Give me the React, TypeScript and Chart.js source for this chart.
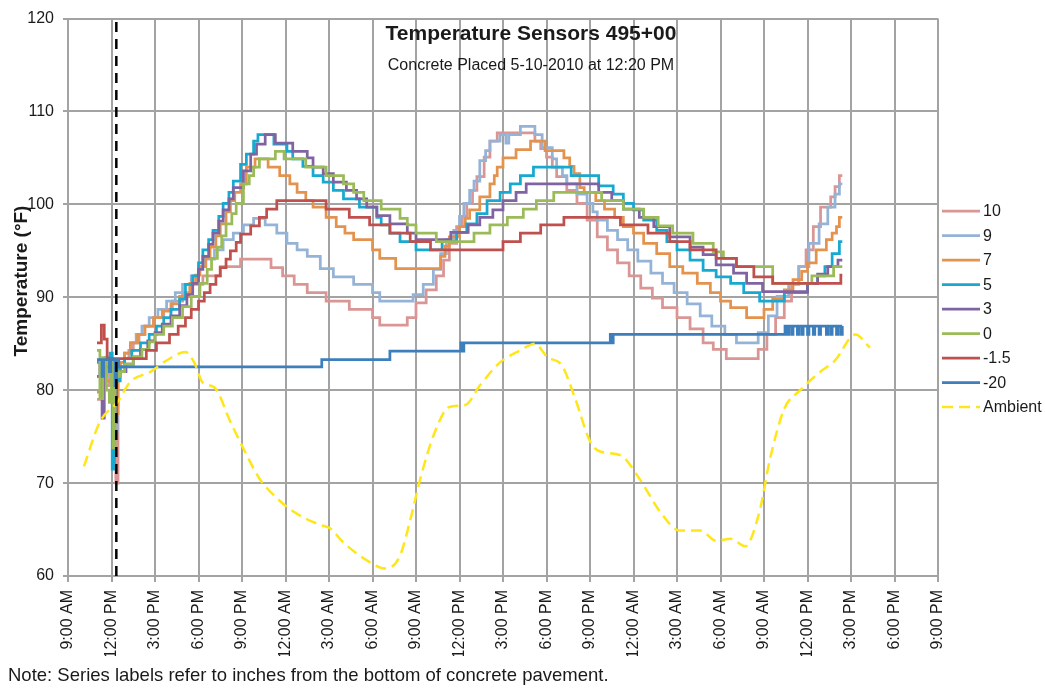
import React, { useEffect, useRef } from 'react';
import { Chart, registerables } from 'chart.js';

Chart.register(...registerables);

const FONT = '"Liberation Sans", Arial, sans-serif';

const chartTitle = 'Temperature Sensors 495+00';
const chartSubtitle = 'Concrete Placed 5-10-2010 at 12:20 PM';
const yAxisTitle = 'Temperature (°F)';
const noteText = 'Note: Series labels refer to inches from the bottom of concrete pavement.';

// hours after 9:00 AM, 5-10-2010
const xTickLabels = [
  '9:00 AM', '12:00 PM', '3:00 PM', '6:00 PM', '9:00 PM', '12:00 AM', '3:00 AM', '6:00 AM',
  '9:00 AM', '12:00 PM', '3:00 PM', '6:00 PM', '9:00 PM', '12:00 AM', '3:00 AM', '6:00 AM',
  '9:00 AM', '12:00 PM', '3:00 PM', '6:00 PM', '9:00 PM',
];
const yTicks = [60, 70, 80, 90, 100, 110, 120];
const placedHour = 3.333; // 12:20 PM

const seriesNames = ['10', '9', '7', '5', '3', '0', '-1.5', '-20', 'Ambient'];
const seriesColors = ['#D99694', '#95B3D7', '#E4934F', '#17A9CF', '#8064A2', '#9BBB59', '#C0504D', '#3D7FBC', '#FFE619'];

const s10: number[][] = [
  [2.0, 79.0], [2.25, 82.0], [2.55, 80.5], [2.85, 82.5], [3.15, 78.0], [3.3, 70.0], [3.45, 81.5], [3.6, 82.5],
  [3.9, 83.4], [4.2, 84.3], [4.5, 85.1], [4.9, 86.0], [5.3, 86.9], [5.9, 87.8], [6.6, 88.7], [7.2, 89.6],
  [7.9, 90.5], [8.6, 91.4], [9.3, 92.3], [10.5, 93.3], [11.9, 94.1], [14.0, 93.2], [14.8, 92.3], [15.6, 91.4],
  [16.5, 90.5], [17.8, 89.6], [19.4, 88.7], [21.0, 87.8], [21.5, 87.0], [23.4, 87.8], [24.0, 89.4], [24.7, 90.8],
  [25.4, 92.3], [25.9, 94.0], [26.3, 95.8], [26.8, 97.6], [27.2, 98.7], [27.5, 100.1], [27.9, 101.5], [28.2, 103.0],
  [28.7, 105.1], [29.1, 106.8], [29.6, 107.7], [32.2, 106.8], [32.6, 106.0], [33.0, 105.1], [33.4, 104.0],
  [33.7, 103.0], [34.4, 101.5], [35.1, 100.1], [35.8, 98.3], [36.5, 96.5], [37.2, 95.1], [37.9, 93.7], [38.7, 92.3],
  [39.5, 91.0], [40.3, 89.9], [41.0, 88.9], [42.0, 87.8], [42.9, 86.6], [43.8, 85.1], [44.5, 84.4], [45.4, 83.4],
  [47.6, 84.4], [48.2, 86.0], [48.8, 87.8], [49.4, 89.6], [49.9, 91.4], [50.4, 93.3], [50.9, 95.1], [51.4, 97.6],
  [51.9, 99.7], [52.6, 100.8], [52.9, 101.9], [53.2, 103.1], [53.4, 103.1],
];

const s9: number[][] = [
  [2.0, 81.5], [2.3, 83.0], [2.65, 81.5], [3.0, 83.3], [3.25, 75.5], [3.4, 82.5], [3.6, 83.0], [3.9, 84.0],
  [4.3, 85.1], [4.7, 86.0], [5.1, 86.9], [5.6, 87.8], [6.2, 88.7], [6.8, 89.6], [7.4, 90.5], [7.9, 91.4],
  [8.5, 92.3], [9.0, 93.3], [9.5, 94.1], [10.1, 95.1], [10.7, 96.2], [11.4, 96.9], [12.1, 97.8], [12.8, 98.5],
  [13.6, 97.8], [14.4, 96.9], [15.1, 95.8], [15.8, 95.1], [16.5, 94.4], [17.4, 93.1], [18.3, 92.2], [19.7, 91.4],
  [21.0, 90.5], [21.5, 89.6], [23.8, 90.3], [24.5, 91.4], [25.2, 93.0], [25.7, 94.7], [26.1, 96.2], [26.6, 97.2],
  [27.0, 98.7], [27.3, 100.1], [27.7, 101.5], [28.0, 102.5], [28.4, 104.7], [28.8, 105.8], [29.1, 106.8],
  [29.8, 107.5], [30.2, 106.6], [30.4, 107.5], [31.2, 108.4], [32.2, 107.5], [32.7, 106.1], [33.4, 104.9],
  [33.7, 104.0], [34.1, 103.1], [34.4, 102.2], [35.1, 101.1], [35.8, 100.1], [36.2, 99.2], [36.5, 98.3],
  [37.2, 97.2], [37.9, 96.2], [38.6, 95.1], [39.3, 93.9], [40.2, 92.6], [41.0, 91.5], [41.8, 90.5], [42.7, 89.3],
  [43.6, 88.0], [44.4, 86.9], [45.3, 86.0], [46.1, 85.1], [47.6, 86.2], [48.3, 88.0], [48.9, 90.1], [49.7, 91.5],
  [50.4, 93.3], [51.1, 95.8], [51.8, 97.9], [52.4, 99.7], [52.9, 101.1], [53.2, 102.2], [53.4, 102.2],
];

const s7: number[][] = [
  [2.0, 79.8], [2.3, 82.5], [2.6, 81.0], [3.0, 83.0], [3.25, 77.5], [3.45, 82.0], [3.6, 83.0], [3.9, 84.0],
  [4.3, 85.1], [4.8, 86.0], [5.3, 86.9], [5.9, 87.8], [6.5, 88.5], [7.1, 89.3], [7.7, 90.1], [8.4, 91.5],
  [8.8, 92.4], [9.1, 93.3], [9.5, 94.3], [9.8, 95.4], [10.2, 96.6], [10.5, 97.9], [10.9, 99.2], [11.2, 100.4],
  [11.5, 101.3], [11.9, 102.2], [12.3, 104.0], [12.9, 104.9], [13.8, 104.0], [14.6, 103.1], [15.3, 102.2],
  [15.8, 101.3], [16.4, 100.4], [16.9, 99.7], [17.8, 98.6], [18.5, 97.6], [19.1, 96.9], [19.7, 96.2], [21.0, 95.1],
  [21.5, 94.2], [22.6, 93.1], [25.7, 94.4], [26.0, 95.5], [26.3, 96.5], [27.0, 97.6], [27.4, 98.5], [27.7, 99.4],
  [28.4, 100.8], [29.1, 102.2], [29.4, 103.1], [29.6, 104.0], [30.0, 105.0], [30.9, 105.9], [31.9, 106.8],
  [32.9, 105.8], [34.2, 105.0], [34.6, 104.1], [34.9, 103.3], [35.3, 101.8], [35.6, 101.3], [36.4, 100.4],
  [37.0, 99.5], [37.7, 98.6], [38.3, 97.6], [39.0, 96.9], [39.7, 95.8], [40.6, 94.7], [41.5, 93.3], [42.4, 92.6],
  [43.4, 91.5], [44.3, 90.5], [45.0, 89.6], [45.7, 88.9], [46.8, 87.8], [48.0, 88.7], [48.6, 89.8], [49.4, 90.8],
  [50.0, 91.9], [50.6, 92.8], [51.0, 93.7], [51.6, 95.1], [52.3, 96.2], [52.7, 96.9], [53.0, 97.6], [53.2, 98.6],
  [53.4, 98.6],
];

const s5: number[][] = [
  [2.0, 83.0], [2.3, 81.5], [2.6, 83.5], [2.9, 84.0], [3.05, 71.5], [3.2, 82.5], [3.4, 81.0], [3.6, 82.5],
  [3.9, 83.4], [4.4, 84.3], [5.0, 85.1], [5.6, 86.0], [6.1, 86.9], [6.6, 87.8], [7.1, 88.7], [7.7, 89.8],
  [8.1, 91.4], [8.6, 92.3], [9.0, 93.7], [9.3, 95.1], [9.7, 96.2], [10.0, 97.2], [10.4, 98.7], [10.7, 100.1],
  [11.1, 101.3], [11.4, 102.5], [11.9, 104.3], [12.3, 105.4], [12.8, 106.8], [13.1, 107.5], [14.2, 106.5],
  [15.1, 105.7], [15.5, 104.9], [16.2, 104.1], [16.9, 103.1], [17.6, 102.4], [18.3, 101.5], [19.0, 100.6],
  [20.1, 99.7], [21.3, 98.6], [21.6, 97.8], [22.2, 96.9], [22.9, 96.0], [24.0, 95.1], [25.8, 96.0], [26.8, 97.0],
  [27.5, 97.9], [28.2, 99.0], [28.9, 100.4], [29.8, 101.3], [30.5, 102.2], [31.2, 103.1], [32.1, 104.0],
  [34.7, 103.1], [36.6, 102.0], [37.6, 101.1], [38.3, 100.1], [39.0, 99.4], [39.7, 98.3], [40.6, 97.2],
  [41.3, 96.0], [42.0, 95.1], [42.9, 94.0], [43.8, 92.9], [44.7, 92.2], [45.7, 91.5], [46.6, 90.5], [47.7, 89.6],
  [49.4, 90.5], [51.0, 91.5], [51.7, 92.3], [52.2, 93.3], [52.7, 94.7], [53.2, 96.0], [53.4, 96.0],
];

const s3: number[][] = [
  [2.0, 81.5], [2.2, 83.0], [2.35, 77.0], [2.5, 82.5], [3.0, 83.0], [3.2, 76.5], [3.35, 82.0], [3.6, 82.0],
  [4.0, 82.8], [4.5, 83.6], [5.0, 84.4], [5.5, 85.3], [6.0, 86.2], [6.5, 87.1], [7.1, 88.0], [7.7, 89.1],
  [8.2, 90.3], [8.6, 91.5], [9.0, 93.0], [9.3, 94.4], [9.7, 95.7], [10.0, 96.9], [10.4, 98.2], [10.7, 99.4],
  [11.1, 100.6], [11.4, 101.8], [12.1, 103.6], [12.6, 105.4], [13.0, 106.5], [13.6, 107.5], [14.3, 106.6],
  [15.5, 105.7], [16.5, 105.0], [16.9, 104.0], [17.6, 103.3], [18.3, 102.4], [19.2, 101.5], [19.9, 100.6],
  [20.6, 99.7], [21.3, 98.8], [22.2, 97.9], [23.4, 96.9], [24.0, 96.2], [26.4, 97.0], [27.6, 97.8], [28.4, 98.6],
  [29.3, 99.4], [30.0, 100.4], [30.9, 101.3], [31.6, 102.2], [36.6, 101.3], [37.5, 100.4], [38.3, 99.5],
  [39.4, 98.6], [40.4, 97.6], [41.5, 96.5], [42.9, 95.4], [43.8, 94.6], [44.7, 93.5], [45.9, 92.6], [46.8, 91.5],
  [47.9, 90.6], [51.0, 91.5], [51.7, 92.5], [52.4, 93.3], [53.1, 94.0], [53.4, 94.0],
];

const s0: number[][] = [
  [2.0, 84.3], [2.2, 79.1], [2.4, 83.5], [2.65, 80.0], [2.85, 78.7], [3.0, 83.0], [3.1, 73.8], [3.25, 82.0],
  [3.45, 81.5], [3.6, 82.0], [3.9, 82.8], [4.5, 83.6], [5.1, 84.4], [5.6, 85.2], [6.0, 86.0], [6.6, 86.9],
  [7.2, 87.8], [7.9, 89.0], [8.5, 90.1], [9.1, 91.5], [9.6, 93.0], [9.9, 94.2], [10.3, 95.4], [10.6, 96.6],
  [10.9, 97.9], [11.3, 99.0], [11.6, 100.1], [12.1, 102.2], [12.5, 103.1], [12.8, 104.0], [13.2, 104.9],
  [14.3, 105.7], [14.9, 104.9], [16.4, 104.0], [17.8, 103.1], [19.0, 102.2], [19.7, 101.3], [20.4, 100.4],
  [21.6, 99.5], [22.9, 98.5], [23.4, 97.8], [24.0, 96.9], [25.4, 96.0], [28.0, 96.9], [29.1, 97.8], [30.3, 98.6],
  [31.4, 99.5], [32.3, 100.4], [33.5, 101.3], [36.8, 100.4], [38.3, 99.5], [39.7, 98.6], [40.7, 97.7],
  [41.7, 96.9], [43.1, 95.8], [44.5, 94.9], [45.2, 94.2], [46.1, 93.3], [48.6, 91.5], [51.3, 92.3], [52.8, 93.3],
  [53.4, 93.3],
];

const sM15: number[][] = [
  [2.0, 85.1], [2.3, 87.0], [2.5, 85.5], [2.7, 83.4], [5.4, 84.3], [6.1, 85.1], [7.0, 86.0], [7.6, 86.9],
  [8.1, 87.8], [8.5, 88.7], [9.0, 89.6], [9.4, 90.5], [9.8, 91.4], [10.2, 92.3], [10.5, 93.2], [10.9, 94.1],
  [11.2, 95.0], [11.6, 95.9], [11.9, 96.8], [12.6, 97.7], [13.2, 98.6], [13.7, 99.5], [14.4, 100.4], [17.8, 99.5],
  [19.4, 98.6], [20.8, 97.8], [22.2, 96.9], [23.6, 96.0], [25.0, 95.1], [30.0, 96.0], [31.2, 96.9], [32.6, 97.8],
  [34.2, 98.6], [38.1, 97.8], [40.0, 96.9], [41.5, 96.0], [42.9, 95.1], [44.7, 94.2], [46.1, 93.3], [47.3, 92.2],
  [48.6, 91.5], [53.3, 92.4], [53.4, 92.4],
];

const sM20: number[][] = [
  [2.0, 83.3], [2.35, 81.5], [2.45, 83.3], [2.85, 82.0], [2.95, 83.3], [3.25, 80.5], [3.35, 83.3], [3.5, 82.5],
  [17.5, 83.3], [22.2, 84.2], [27.1, 85.1], [27.2, 84.2], [27.3, 85.1], [37.4, 86.0], [37.5, 85.1], [37.6, 86.0],
  [49.45, 86.9], [49.6, 86.0], [49.7, 86.9], [49.9, 86.0], [50.0, 86.9], [50.3, 86.0], [50.4, 86.9], [50.6, 86.0],
  [50.7, 86.9], [51.0, 86.0], [51.1, 86.9], [51.4, 86.0], [51.5, 86.9], [51.8, 86.0], [51.9, 86.9], [52.3, 86.0],
  [52.4, 86.9], [52.6, 86.0], [52.7, 86.9], [53.0, 86.0], [53.1, 86.9], [53.3, 86.0], [53.4, 86.9],
];

const ambient: number[][] = [
  [1.1, 71.8], [2.2, 76.6], [3.4, 78.7], [4.3, 80.9], [5.7, 82.0], [6.8, 83.2], [8.1, 84.1], [8.7, 83.0],
  [9.3, 80.8], [10.1, 80.3], [11.2, 76.6], [12.2, 73.4], [13.2, 70.5], [14.6, 68.1], [16.0, 66.5], [17.4, 65.5],
  [18.1, 65.1], [19.0, 63.6], [20.8, 61.5], [21.9, 60.8], [22.9, 62.2], [23.6, 66.0], [24.3, 70.5], [25.3, 75.5],
  [26.3, 78.2], [27.4, 78.4], [28.4, 80.5], [29.8, 83.0], [31.2, 84.3], [32.2, 85.0], [33.1, 83.5], [34.0, 82.8],
  [35.0, 79.0], [36.0, 74.5], [36.7, 73.4], [38.1, 73.0], [39.4, 70.5], [40.8, 67.0], [42.2, 64.9], [43.6, 64.9],
  [44.7, 63.8], [45.7, 64.0], [46.7, 63.2], [47.7, 67.0], [48.4, 72.5], [49.4, 78.0], [50.5, 80.0], [51.9, 82.0],
  [52.9, 83.2], [54.3, 86.0], [55.3, 84.6],
];

const sensorSeries = [s10, s9, s7, s5, s3, s0, sM15, sM20];

const overlayPlugin = {
  id: 'overlayTexts',
  afterDraw(chart: any) {
    const ctx = chart.ctx as CanvasRenderingContext2D;
    ctx.save();
    ctx.fillStyle = '#1a1a1a';
    ctx.textAlign = 'center';
    ctx.textBaseline = 'alphabetic';
    ctx.font = `bold 21px ${FONT}`;
    ctx.fillText(chartTitle, 531, 40);
    ctx.font = `16px ${FONT}`;
    ctx.fillText(chartSubtitle, 531, 70);

    ctx.save();
    ctx.translate(27, 281);
    ctx.rotate(-Math.PI / 2);
    ctx.font = `bold 19px ${FONT}`;
    ctx.fillText(yAxisTitle, 0, 0);
    ctx.restore();

    // legend
    const ds = chart.data.datasets.filter((d: any) => d.inLegend);
    ds.forEach((d: any, i: number) => {
      const y = 211 + i * 24.5;
      ctx.save();
      ctx.strokeStyle = d.borderColor;
      ctx.lineWidth = d.borderWidth;
      ctx.setLineDash(d.borderDash || []);
      ctx.beginPath();
      ctx.moveTo(942, y);
      ctx.lineTo(980, y);
      ctx.stroke();
      ctx.restore();
      ctx.textAlign = 'left';
      ctx.textBaseline = 'middle';
      ctx.font = `16px ${FONT}`;
      ctx.fillText(d.label, 983, y + 1);
    });

    ctx.textAlign = 'left';
    ctx.textBaseline = 'alphabetic';
    ctx.font = `18.5px ${FONT}`;
    ctx.fillText(noteText, 8, 681);
    ctx.restore();
  },
};

export default function App() {
  const ref = useRef<HTMLCanvasElement | null>(null);
  useEffect(() => {
    if (!ref.current) return;
    const datasets: any[] = sensorSeries.map((pts, i) => ({
      label: seriesNames[i],
      inLegend: true,
      data: pts.map(([x, y]) => ({ x, y })),
      borderColor: seriesColors[i],
      backgroundColor: seriesColors[i],
      borderWidth: 2.75,
      pointRadius: 0,
      stepped: true,
      fill: false,
      order: 20 - i,
    }));
    datasets.push({
      label: seriesNames[8],
      inLegend: true,
      data: ambient.map(([x, y]) => ({ x, y })),
      borderColor: seriesColors[8],
      backgroundColor: seriesColors[8],
      borderWidth: 2.5,
      borderDash: [11, 6],
      pointRadius: 0,
      cubicInterpolationMode: 'monotone',
      fill: false,
      order: 5,
    });
    datasets.push({
      label: 'Placed',
      inLegend: false,
      data: [{ x: placedHour, y: yTicks[0] }, { x: placedHour, y: yTicks[yTicks.length - 1] }],
      borderColor: '#000000',
      borderWidth: 2.5,
      borderDash: [10, 7],
      pointRadius: 0,
      fill: false,
      order: 0,
    });

    const chart = new Chart(ref.current, {
      type: 'line',
      data: { datasets },
      options: {
        responsive: false,
        animation: false,
        devicePixelRatio: 1,
        events: [],
        layout: { padding: { top: 13, right: 107, bottom: 32, left: 0 } },
        plugins: { legend: { display: false }, tooltip: { enabled: false }, title: { display: false } },
        scales: {
          x: {
            type: 'linear',
            min: 0,
            max: 60,
            afterFit: (s: any) => { s.height = 80; },
            ticks: {
              stepSize: 3,
              autoSkip: false,
              minRotation: 90,
              maxRotation: 90,
              padding: 8,
              color: '#1a1a1a',
              font: { family: FONT, size: 16 },
              callback: (v: any) => xTickLabels[Math.round(Number(v) / 3)] ?? '',
            },
            grid: { color: '#a3a3a3', lineWidth: 2, tickLength: 6, drawTicks: true },
            border: { color: '#a3a3a3', width: 2 },
          },
          y: {
            type: 'linear',
            min: yTicks[0],
            max: yTicks[yTicks.length - 1],
            afterFit: (s: any) => { s.width = 68; },
            ticks: {
              stepSize: 10,
              padding: 9,
              color: '#1a1a1a',
              font: { family: FONT, size: 16 },
            },
            grid: { color: '#a3a3a3', lineWidth: 2, tickLength: 5, drawTicks: true },
            border: { color: '#a3a3a3', width: 2 },
          },
        },
      } as any,
      plugins: [overlayPlugin],
    });
    return () => chart.destroy();
  }, []);

  return (
    <div style={{ position: 'absolute', left: 0, top: 0, width: 1045, height: 688, background: '#ffffff' }}>
      <canvas ref={ref} width={1045} height={688} style={{ display: 'block' }} />
    </div>
  );
}
